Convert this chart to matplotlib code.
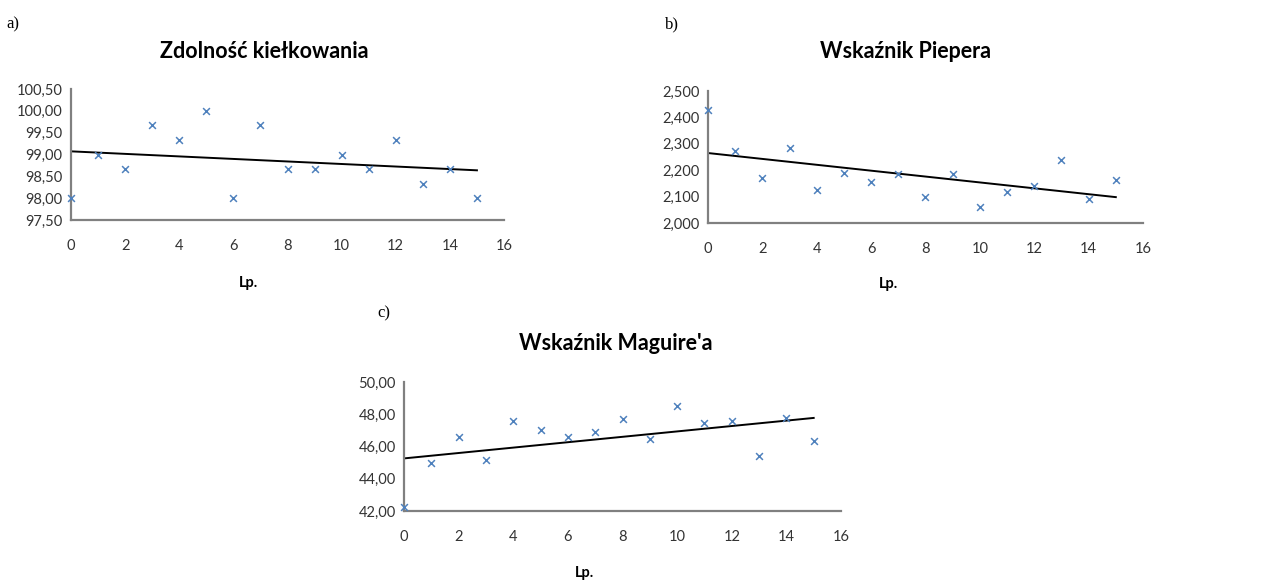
import numpy as np
import matplotlib
matplotlib.use("Agg")
import matplotlib.pyplot as plt
from matplotlib.ticker import FuncFormatter

W, H = 1284, 581

# -----------------------------
# Data
# -----------------------------
lp = np.arange(16)

zdolnosc = [98.00, 99.00, 98.67, 99.67, 99.33, 100.00, 98.00, 99.67,
            98.67, 98.67, 99.00, 98.67, 99.33, 98.33, 98.67, 98.00]

pieper = [2.429, 2.271, 2.172, 2.284, 2.125, 2.188, 2.154, 2.184,
          2.100, 2.186, 2.062, 2.116, 2.140, 2.239, 2.092, 2.162]

maguire = [42.25, 44.98, 46.57, 45.17, 47.60, 47.00, 46.59, 46.88,
           47.71, 46.45, 48.49, 47.44, 47.58, 45.43, 47.77, 46.36]

titles = ["Zdolność kiełkowania", "Wskaźnik Piepera", "Wskaźnik Maguire'a"]
letters = ["a)", "b)", "c)"]
y_ranges = [(97.5, 100.5, 0.5), (2.0, 2.5, 0.1), (42.0, 50.0, 2.0)]
decimals = [2, 3, 2]

MARKER_COLOR = "#4F81BD"
FONT = "Lato"


def px_axes(fig, left, top, right, bottom):
    return fig.add_axes([left / W, 1 - bottom / H,
                         (right - left) / W, (bottom - top) / H])


def comma_fmt(nd):
    return FuncFormatter(lambda v, _: f"{v:.{nd}f}".replace(".", ","))


def draw_panel(fig, box, values, yr, nd, title, title_xy, lp_xy, letter, letter_xy):
    ax = px_axes(fig, *box)

    ax.scatter(lp, values, marker="x", s=24, color=MARKER_COLOR,
               linewidths=1.1, zorder=3, clip_on=False)

    # linear trend line
    slope, intercept = np.polyfit(lp, values, 1)
    ax.plot(lp, slope * lp + intercept, color="black", linewidth=1.4, zorder=2)

    ax.set_xlim(0, 16)
    ax.set_ylim(yr[0], yr[1])
    ax.set_xticks(np.arange(0, 17, 2))
    ax.set_yticks(np.arange(yr[0], yr[1] + yr[2] / 2, yr[2]))
    ax.yaxis.set_major_formatter(comma_fmt(nd))

    for side in ["top", "right"]:
        ax.spines[side].set_visible(False)
    for side in ["left", "bottom"]:
        ax.spines[side].set_color("#808080")
        ax.spines[side].set_linewidth(1.6)

    ax.tick_params(length=0, labelsize=10.5, colors="#333333")
    ax.tick_params(axis="x", pad=14)
    ax.tick_params(axis="y", pad=6)
    for lab in ax.get_xticklabels() + ax.get_yticklabels():
        lab.set_family(FONT)

    fig.text(title_xy[0] / W, 1 - title_xy[1] / H, title,
             ha="center", va="center", fontsize=15.5, fontweight="bold",
             family=FONT)
    fig.text(lp_xy[0] / W, 1 - lp_xy[1] / H, "Lp.",
             ha="center", va="center", fontsize=10.5, fontweight="bold",
             family=FONT)
    fig.text(letter_xy[0] / W, 1 - letter_xy[1] / H, letter,
             ha="left", va="center", fontsize=12, family="Liberation Serif")
    return ax


def main():
    fig = plt.figure(figsize=(W / 100, H / 100), dpi=100)
    fig.patch.set_facecolor("white")

    draw_panel(fig, (71, 89, 504, 220), zdolnosc, y_ranges[0], decimals[0],
               titles[0], (264, 52), (249, 283), letters[0], (6, 24))
    draw_panel(fig, (708, 91, 1143, 223), pieper, y_ranges[1], decimals[1],
               titles[1], (906, 52), (888, 284), letters[1], (665, 24))
    draw_panel(fig, (404, 382, 841, 511), maguire, y_ranges[2], decimals[2],
               titles[2], (616, 343), (585, 573), letters[2], (377, 313))

    fig.savefig("out.png", dpi=100)
    plt.close(fig)


if __name__ == "__main__":
    main()
